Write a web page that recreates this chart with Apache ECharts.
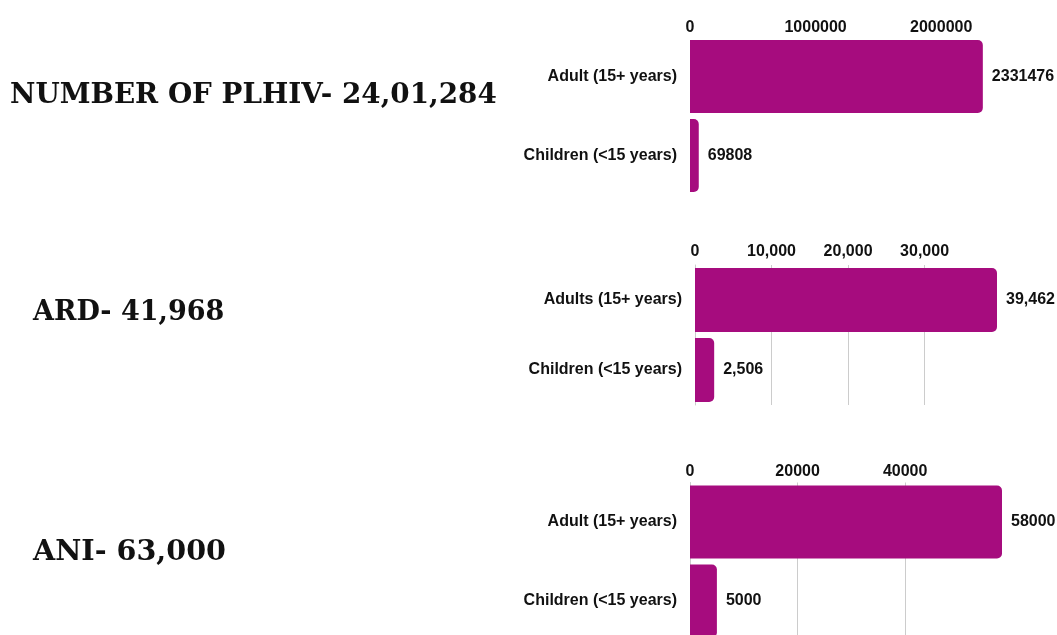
<!DOCTYPE html>
<html>
<head>
<meta charset="utf-8">
<script src="https://cdn.jsdelivr.net/npm/echarts@6/dist/echarts.min.js"></script>
<style>
html,body{margin:0;padding:0;background:#fff;}
#chart{width:1057px;height:635px;}
</style>
</head>
<body>
<div id="chart"></div>
<script>
// ---- data ----
var titles = ['NUMBER OF PLHIV- 24,01,284', 'ARD- 41,968', 'ANI- 63,000'];
var plhivCategories = ['Adult (15+ years)', 'Children (<15 years)'];
var plhivValues = [2331476, 69808];
var ardCategories = ['Adults (15+ years)', 'Children (<15 years)'];
var ardValues = [39462, 2506];
var aniCategories = ['Adult (15+ years)', 'Children (<15 years)'];
var aniValues = [58000, 5000];

var BAR = '#A60C7E';
var labelFont = { fontFamily: 'Liberation Sans, Arial, sans-serif', fontWeight: 'bold', fontSize: 16, color: '#111' };

function fmtComma(v) { return String(v).replace(/\B(?=(\d{3})+(?!\d))/g, ','); }

var chart = echarts.init(document.getElementById('chart'), null, { renderer: 'canvas' });

function xAx(gi, interval, max, showSplit, margin, comma) {
  return {
    gridIndex: gi, type: 'value', position: 'top', min: 0, max: max, interval: interval,
    axisLine: { show: false }, axisTick: { show: false },
    axisLabel: Object.assign({ margin: margin, showMaxLabel: false,
      formatter: function (v) { return comma ? fmtComma(v) : String(v); } }, labelFont),
    splitLine: { show: showSplit, showMinLine: false, showMaxLine: false, lineStyle: { color: '#cccccc', width: 1 } }
  };
}
function yAx(gi, cats, showLine) {
  return {
    gridIndex: gi, type: 'category', data: cats, inverse: true,
    axisLine: { show: showLine, lineStyle: { color: '#cccccc' } }, axisTick: { show: false },
    axisLabel: Object.assign({ margin: 13 }, labelFont)
  };
}
function bar(i, vals, comma, width) {
  return {
    type: 'bar', xAxisIndex: i, yAxisIndex: i, data: vals, barWidth: width,
    itemStyle: { color: BAR, borderRadius: [0, 5, 5, 0] },
    label: Object.assign({ show: true, position: 'right', distance: 9,
      formatter: function (p) { return comma ? fmtComma(p.value) : String(p.value); } }, labelFont)
  };
}

function titleStyle(size) { return { fontFamily: "'DejaVu Serif'", fontWeight: 'bold', fontSize: size, fill: '#111' }; }

chart.setOption({
  animation: false,
  backgroundColor: '#ffffff',
  grid: [
    { left: 690, top: 37, width: 314, height: 158, outerBoundsMode: 'none', containLabel: false },
    { left: 695, top: 265, width: 302, height: 140, outerBoundsMode: 'none', containLabel: false },
    { left: 690, top: 482.5, width: 312, height: 158, outerBoundsMode: 'none', containLabel: false }
  ],
  xAxis: [
    xAx(0, 1000000, 2500000, false, 1, false),
    xAx(1, 10000, 'dataMax', true, 5, true),
    xAx(2, 20000, 'dataMax', true, 3, false)
  ],
  yAxis: [ yAx(0, plhivCategories, false), yAx(1, ardCategories, true), yAx(2, aniCategories, true) ],
  series: [ bar(0, plhivValues, false, 73), bar(1, ardValues, true, 64), bar(2, aniValues, false, 73) ],
  graphic: [
    { type: 'text', left: 10, top: 82, style: Object.assign({ text: titles[0] }, titleStyle(27.8)) },
    { type: 'text', left: 33, top: 299, style: Object.assign({ text: titles[1] }, titleStyle(27)) },
    { type: 'text', left: 33, top: 538, style: Object.assign({ text: titles[2] }, titleStyle(28.6)) }
  ]
});
</script>
</body>
</html>
